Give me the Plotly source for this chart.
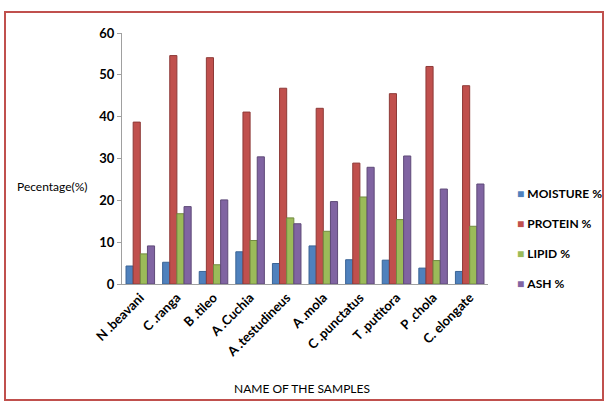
import plotly.graph_objects as go

samples = ["N .beavani", "C .ranga", "B .tileo", "A .Cuchia", "A .testudineus",
           "A .mola", "C .punctatus", "T .putitora", "P .chola", "C. elongate"]
moisture = [4.3, 5.2, 3.0, 7.7, 4.9, 9.1, 5.8, 5.7, 3.8, 3.0]
protein = [38.7, 54.6, 54.1, 41.1, 46.8, 42.0, 28.9, 45.5, 52.0, 47.4]
lipid = [7.2, 16.8, 4.6, 10.4, 15.8, 12.6, 20.8, 15.4, 5.6, 13.8]
ash = [9.1, 18.5, 20.1, 30.4, 14.4, 19.7, 27.9, 30.6, 22.7, 23.9]

series = [
    ("MOISTURE %", moisture, "#4F81BD", "#3A6496"),
    ("PROTEIN %", protein, "#C0504D", "#8E3A38"),
    ("LIPID %", lipid, "#9BBB59", "#728A40"),
    ("ASH %", ash, "#8064A2", "#5E4A78"),
]

FONT = "Lato"
fig = go.Figure()
for i, (name, vals, col, edge) in enumerate(series):
    fig.add_trace(go.Bar(
        x=samples, y=vals, name=name, showlegend=False,
        marker=dict(color=col, line=dict(color=edge, width=1)),
    ))

L, R, T, B = 122, 488, 33, 284
W, H = 606, 402
pw, ph = R - L, B - T

def px(x):
    return (x - L) / pw

def py(y):
    return (B - y) / ph

annotations = [
    dict(text="Pecentage(%)", xref="paper", yref="paper",
         x=px(15), y=py(186), xanchor="left", yanchor="middle", showarrow=False,
         font=dict(family=FONT, size=12, color="black")),
    dict(text="NAME OF THE SAMPLES", xref="paper", yref="paper",
         x=px(302), y=py(388), xanchor="center", yanchor="middle", showarrow=False,
         font=dict(family=FONT, size=12, color="black")),
]
legend_y = [193, 223.5, 253.5, 283.5]
for (name, vals, col, edge), ly in zip(series, legend_y):
    annotations.append(dict(
        text=f"<span style='color:{col}'>■</span> <b>{name}</b>",
        xref="paper", yref="paper", x=px(515), y=py(ly),
        xanchor="left", yanchor="middle", showarrow=False,
        font=dict(family=FONT, size=12, color="black")))

fig.update_layout(
    width=W, height=H,
    margin=dict(l=L, r=W - R, t=T, b=H - B, pad=0),
    paper_bgcolor="white", plot_bgcolor="white",
    barmode="group", bargap=0.22, bargroupgap=0.0,
    font=dict(family=FONT, size=11, color="black"),
    showlegend=False,
    xaxis=dict(tickangle=-45, showgrid=False, showline=True,
               linecolor="#A0A0A0", linewidth=1, ticks="",
               tickfont=dict(family=FONT, size=13, color="black", weight="bold")),
    yaxis=dict(range=[0, 60], dtick=10, showgrid=False, showline=True,
               linecolor="#A0A0A0", linewidth=1, ticks="outside", ticklen=4,
               tickcolor="#A0A0A0", zeroline=False,
               tickfont=dict(family=FONT, size=13, color="black", weight="bold")),
    shapes=[dict(type="rect", xref="paper", yref="paper",
                 x0=px(5), x1=px(603), y0=py(400), y1=py(12),
                 line=dict(color="#C0504D", width=2), layer="below")],
    annotations=annotations,
)

fig.write_html("out.html")
